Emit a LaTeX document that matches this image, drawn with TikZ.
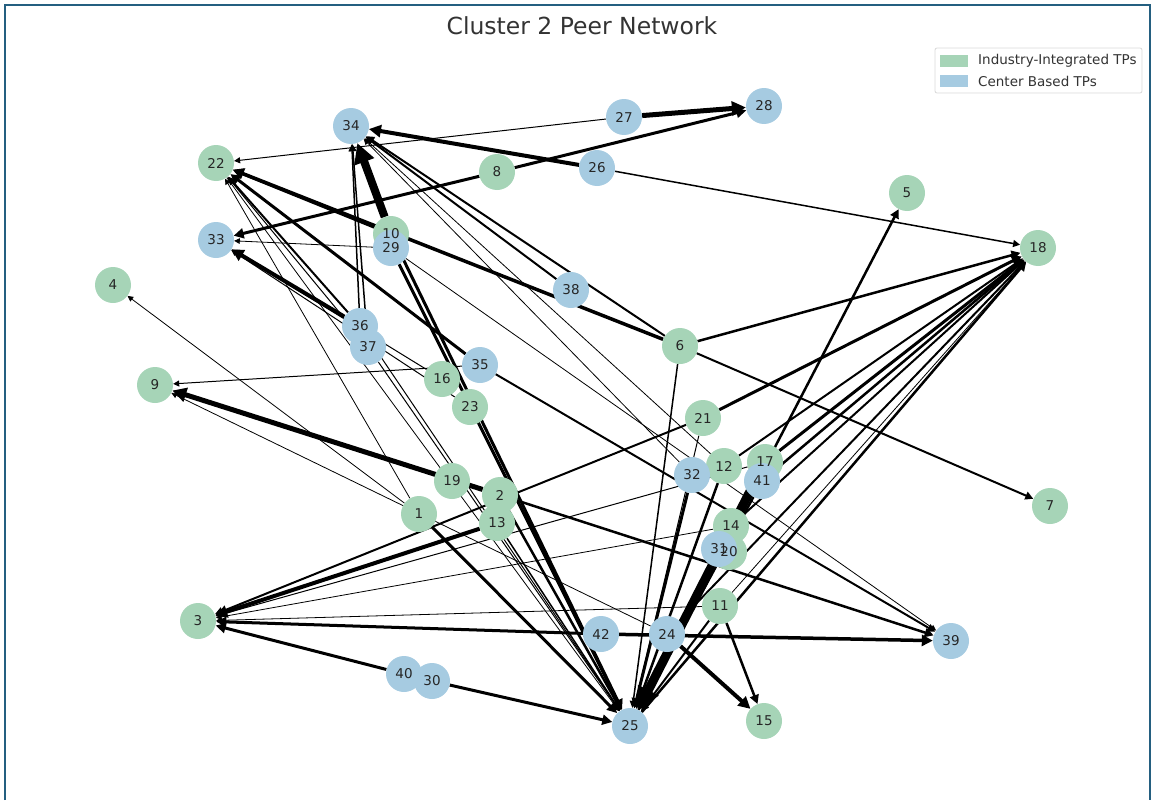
\documentclass[tikz,border=0pt]{standalone}
\usepackage{fontspec}
\setmainfont{DejaVu Sans}
\usetikzlibrary{arrows.meta,backgrounds}
\definecolor{indc}{HTML}{A6D4B7}
\definecolor{cenc}{HTML}{A6CBE1}
\definecolor{framec}{HTML}{245F80}
\definecolor{txtc}{HTML}{333333}
\tikzset{
 tp/.style={circle, minimum size=36pt, inner sep=0pt, draw=none},
 indtp/.style={tp, fill=indc},
 centp/.style={tp, fill=cenc},
 lbl/.style={font=\fontsize{13.5}{14}\selectfont, text=black!85, inner sep=0pt},
 edgew/.style={draw=black, line width=#1pt, -{Triangle[length=4pt 2, width=4pt 2]}},
 legtxt/.style={font=\fontsize{13.5}{15}\selectfont, text=txtc, anchor=west, inner sep=0pt},
}
\begin{document}
\begin{tikzpicture}[x=1pt,y=-1pt]
\useasboundingbox (0,0) rectangle (1153,800);
\draw[framec, line width=2pt] (5,800) -- (5,5) -- (1150,5) -- (1150,800);
\node[font=\fontsize{23.5}{26}\selectfont, text=txtc] (title) at (582,26) {Cluster 2 Peer Network};
% industry-integrated nodes
\foreach \n/\x/\y in {1/419/514, 2/500/495, 3/198/621, 4/113/285, 5/907/193, 6/680/346,
  7/1050/506, 8/497/172, 9/155/385, 10/391/234, 11/720/606, 12/724/466, 13/497/523,
  14/731/526, 15/764/721, 16/442/379, 17/765/462, 18/1038/248, 19/452/481, 20/729/552,
  21/703/418, 22/216/163, 23/470/407}
  \node[indtp] (n\n) at (\x,\y) {};
% center based nodes
\foreach \n/\x/\y in {24/667/634, 25/630/726, 26/597/168, 27/624/117, 28/764/106,
  29/391/248, 30/432/681, 31/719/549, 32/692/475, 33/216/240, 34/351/126, 35/480/365,
  36/360/326, 37/368/347, 38/571/290, 39/951/641, 40/404/674, 41/762/481, 42/601/634}
  \node[centp] (n\n) at (\x,\y) {};
% labels
\foreach \n in {1,...,42}
  \node[lbl] (l\n) at (n\n) {\n};
% edges
\begin{pgfonlayer}{background}
\foreach \s/\t/\w in {27/28/5, 8/28/3,
  26/34/4, 10/34/8, 36/34/1.5, 37/34/1.5, 6/34/2, 38/34/2, 32/34/0.8, 12/34/0.8,
  8/33/3, 36/33/4, 16/33/1, 23/33/1, 29/33/0.8,
  27/22/1, 10/22/3, 6/22/3.5, 35/22/3, 36/22/2, 37/22/1, 1/22/0.8,
  30/25/3, 1/25/3, 10/25/3, 29/25/3, 2/25/2.5, 13/25/1.5, 36/25/1, 37/25/1, 22/25/0.8,
  17/25/9, 41/25/2.5, 32/25/3, 12/25/2.5, 11/25/2, 6/25/1.5, 21/25/1,
  25/18/2.5, 24/18/2, 41/18/2.5, 17/18/3, 12/18/2, 21/18/3, 6/18/2.5, 26/18/1.5,
  11/18/0.8, 14/18/2,
  25/5/2.5,
  42/39/3.5, 2/39/2.5, 35/39/2, 29/39/0.8,
  40/3/3, 42/3/3, 13/3/4, 21/3/2, 14/3/0.8, 11/3/0.8, 17/3/1,
  2/9/5, 35/9/1, 24/9/0.8,
  1/4/0.8, 6/7/2, 24/15/4, 11/15/2.5}
  \draw[edgew=\w] (n\s) -- (n\t);
\end{pgfonlayer}
% legend
\draw[draw=black!15, fill=white, rounded corners=2pt, line width=0.8pt] (935,48) rectangle (1142,93);
\fill[indc] (940,55) rectangle (968,67);
\fill[cenc] (940,75) rectangle (968,87);
\node[legtxt] (leg1) at (978,61) {Industry-Integrated TPs};
\node[legtxt] (leg2) at (978,81) {Center Based TPs};
\end{tikzpicture}
\end{document}
